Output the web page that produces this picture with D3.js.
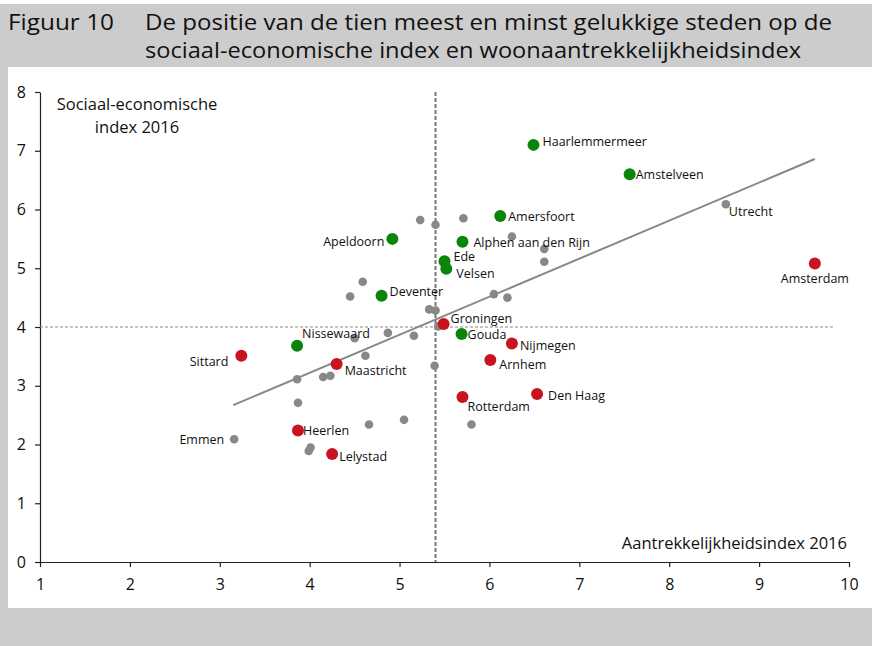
<!DOCTYPE html>
<html>
<head>
<meta charset="utf-8">
<script src="https://cdn.jsdelivr.net/npm/d3@7"></script>
<style>
  body { margin: 0; background: #fff; }
  svg { display: block; font-family: "Open Sans", "Noto Sans", sans-serif; }
</style>
</head>
<body>
<div id="chart"></div>
<script>
// * DATA
const xTicks = [1, 2, 3, 4, 5, 6, 7, 8, 9, 10];
const yTicks = [0, 1, 2, 3, 4, 5, 6, 7, 8];

// named cities: group 'meest' = tien meest gelukkig (groen), 'minst' = minst gelukkig (rood)
const cityNames = ["Haarlemmermeer", "Amstelveen", "Amersfoort", "Apeldoorn", "Alphen aan den Rijn",
  "Ede", "Velsen", "Deventer", "Nissewaard", "Gouda",
  "Groningen", "Nijmegen", "Arnhem", "Rotterdam", "Den Haag",
  "Amsterdam", "Sittard", "Maastricht", "Heerlen", "Lelystad",
  "Utrecht", "Emmen"];
const cityX = [6.49, 7.56, 6.12, 4.92, 5.70, 5.50, 5.52, 4.80, 3.86, 5.69,
  5.49, 6.25, 6.01, 5.70, 6.53, 9.62, 3.24, 4.30, 3.87, 4.25, 8.63, 3.16];
const cityY = [7.10, 6.60, 5.89, 5.50, 5.45, 5.12, 4.99, 4.53, 3.68, 3.88,
  4.05, 3.72, 3.44, 2.81, 2.86, 5.08, 3.51, 3.37, 2.24, 1.84, 6.09, 2.09];
const cityGroup = ["meest", "meest", "meest", "meest", "meest", "meest", "meest", "meest", "meest", "meest",
  "minst", "minst", "minst", "minst", "minst", "minst", "minst", "minst", "minst", "minst",
  "overig", "overig"];

// other cities (no label)
const otherX = [5.23, 5.40, 5.71, 6.25, 6.61, 6.61, 4.59, 4.45, 6.05, 6.20, 5.33, 5.40, 5.43, 4.87,
  5.16, 4.50, 4.62, 5.39, 3.86, 4.15, 4.23, 3.87, 4.66, 5.05, 5.80, 4.01, 3.99];
const otherY = [5.82, 5.74, 5.85, 5.54, 5.33, 5.11, 4.77, 4.52, 4.56, 4.50, 4.30, 4.28, 4.01, 3.90,
  3.85, 3.81, 3.51, 3.34, 3.11, 3.15, 3.17, 2.71, 2.34, 2.42, 2.34, 1.95, 1.89];

// trend line and reference (mean) lines
const trendX = [3.15, 9.62];
const trendY = [2.67, 6.86];
const meanX = 5.4;
const meanY = 4;

// * LAYOUT
const W = 872, H = 646;
const colors = { meest: "#0a850a", minst: "#c8141e", overig: "#888888" };
// label placement: dx, dy from point centre, text anchor
const labelPos = {
  "Haarlemmermeer": [9, -3, "start"],
  "Amstelveen": [6, 0, "start"],
  "Amersfoort": [8, 1, "start"],
  "Apeldoorn": [-8, 3, "end"],
  "Alphen aan den Rijn": [11, 1, "start"],
  "Ede": [9, -5, "start"],
  "Velsen": [10, 5, "start"],
  "Deventer": [8, -4, "start"],
  "Nissewaard": [5, -12, "start"],
  "Gouda": [6, 1, "start"],
  "Groningen": [7, -5, "start"],
  "Nijmegen": [8, 2, "start"],
  "Arnhem": [9, 5, "start"],
  "Rotterdam": [5, 10, "start"],
  "Den Haag": [11, 2, "start"],
  "Amsterdam": [0, 15, "middle"],
  "Sittard": [-13, 6, "end"],
  "Maastricht": [8, 7, "start"],
  "Heerlen": [5, 0, "start"],
  "Lelystad": [7, 3, "start"],
  "Utrecht": [3, 7, "start"],
  "Emmen": [-10, 0, "end"]
};

var svg = d3.select("#chart").append("svg")
  .attr("width", W)
  .attr("height", H);

// frame: grey title band, left border, bottom band
svg.append("rect").attr("x", 0).attr("y", 0).attr("width", W).attr("height", H).attr("fill", "#cccccc");
svg.append("rect").attr("x", 0).attr("y", 0).attr("width", W).attr("height", 4).attr("fill", "#ffffff");
svg.append("rect").attr("x", 8).attr("y", 67).attr("width", W - 8).attr("height", 541).attr("fill", "#ffffff");

// title
var title = svg.append("g").attr("font-size", 21).attr("fill", "#111");
title.append("text").attr("x", 8).attr("y", 30)
  .attr("textLength", 106).attr("lengthAdjust", "spacingAndGlyphs")
  .text("Figuur 10");
title.append("text").attr("x", 145).attr("y", 30)
  .attr("textLength", 687).attr("lengthAdjust", "spacingAndGlyphs")
  .text("De positie van de tien meest en minst gelukkige steden op de");
title.append("text").attr("x", 145).attr("y", 58)
  .attr("textLength", 656).attr("lengthAdjust", "spacingAndGlyphs")
  .text("sociaal-economische index en woonaantrekkelijkheidsindex");

// scales
var x = d3.scaleLinear().domain([1, 10]).range([40, 849]);
var y = d3.scaleLinear().domain([0, 8]).range([562, 92]);

// axes
var xAxis = svg.append("g")
  .attr("transform", "translate(0," + y(0) + ")")
  .call(d3.axisBottom(x).tickValues(xTicks).tickFormat(d3.format("d")).tickSizeInner(5).tickSizeOuter(0).tickPadding(12));
var yAxis = svg.append("g")
  .attr("transform", "translate(" + x(1) + ",0)")
  .call(d3.axisLeft(y).tickValues(yTicks).tickFormat(d3.format("d")).tickSizeInner(5).tickSizeOuter(0).tickPadding(9));
[xAxis, yAxis].forEach(function(a) {
  a.selectAll("path").attr("stroke", "#222").attr("stroke-width", 1.2);
  a.selectAll("line").attr("stroke", "#222").attr("stroke-width", 1.2);
  a.selectAll("text").attr("font-size", 16).attr("fill", "#111")
    .attr("font-family", "\"Open Sans\", \"Noto Sans\", sans-serif");
});

// axis titles
svg.append("text").attr("x", 137).attr("y", 110).attr("text-anchor", "middle")
  .attr("font-size", 16.5).attr("fill", "#111").text("Sociaal-economische");
svg.append("text").attr("x", 137).attr("y", 133).attr("text-anchor", "middle")
  .attr("font-size", 16.5).attr("fill", "#111").text("index 2016");
svg.append("text").attr("x", 847).attr("y", 549).attr("text-anchor", "end")
  .attr("font-size", 16.5).attr("fill", "#111").text("Aantrekkelijkheidsindex 2016");

// reference lines
svg.append("line")
  .attr("x1", x(meanX)).attr("x2", x(meanX))
  .attr("y1", y(8)).attr("y2", y(0))
  .attr("stroke", "#777").attr("stroke-width", 2).attr("stroke-dasharray", "4,2");
svg.append("line")
  .attr("x1", x(1)).attr("x2", x(9.82))
  .attr("y1", y(meanY)).attr("y2", y(meanY))
  .attr("stroke", "#888").attr("stroke-width", 1).attr("stroke-dasharray", "3,2");

// trend line
svg.append("line")
  .attr("x1", x(trendX[0])).attr("x2", x(trendX[1]))
  .attr("y1", y(trendY[0])).attr("y2", y(trendY[1]))
  .attr("stroke", "#888").attr("stroke-width", 2);

// other cities
svg.append("g").selectAll("circle")
  .data(otherX)
  .enter()
  .append("circle")
  .attr("cx", function(d) { return x(d); })
  .attr("cy", function(d, i) { return y(otherY[i]); })
  .attr("r", 4.3)
  .attr("fill", colors.overig);

// named cities
var cities = cityNames.map(function(n, i) {
  return { name: n, x: cityX[i], y: cityY[i], group: cityGroup[i] };
});
svg.append("g").selectAll("circle")
  .data(cities)
  .enter()
  .append("circle")
  .attr("cx", function(d) { return x(d.x); })
  .attr("cy", function(d) { return y(d.y); })
  .attr("r", function(d) { return d.group == "overig" ? 4.3 : 6; })
  .attr("fill", function(d) { return colors[d.group]; });

svg.append("g").selectAll("text")
  .data(cities)
  .enter()
  .append("text")
  .attr("x", function(d) { return x(d.x) + labelPos[d.name][0]; })
  .attr("y", function(d) { return y(d.y) + labelPos[d.name][1]; })
  .attr("dy", "0.35em")
  .attr("text-anchor", function(d) { return labelPos[d.name][2]; })
  .attr("font-size", 12.5)
  .attr("fill", "#111")
  .text(function(d) { return d.name; });
</script>
</body>
</html>
